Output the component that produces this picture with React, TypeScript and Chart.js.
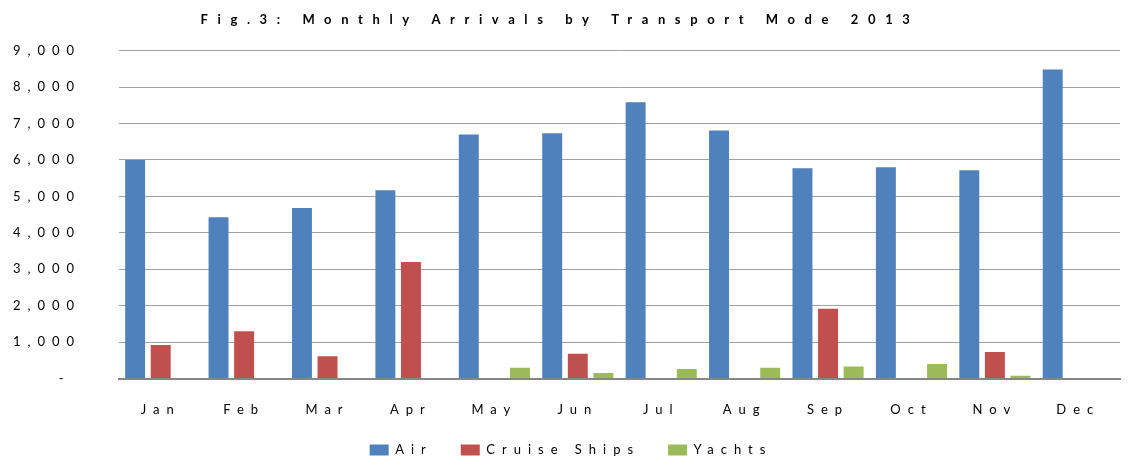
import React, { useEffect, useRef } from 'react';
import { Chart, registerables } from 'chart.js';

Chart.register(...registerables);

const months = ['Jan', 'Feb', 'Mar', 'Apr', 'May', 'Jun', 'Jul', 'Aug', 'Sep', 'Oct', 'Nov', 'Dec'];
const air = [6000, 4430, 4680, 5170, 6700, 6730, 7580, 6810, 5770, 5800, 5720, 8480];
const cruise = [920, 1300, 610, 3200, 0, 680, 0, 0, 1920, 0, 730, 0];
const yachts = [0, 0, 0, 0, 300, 155, 265, 300, 335, 400, 80, 0];
const seriesNames = ['Air', 'Cruise Ships', 'Yachts'];
const seriesColors = ['#4F81BD', '#C0504D', '#9BBB59'];
const titleText = 'Fig.3: Monthly Arrivals by Transport Mode 2013';

const FONT = 'Lato, "Open Sans", sans-serif';
const SPACING = '7px';
const TITLE_SPACING = '9.6px';

const spacingPlugin = {
  id: 'letterSpacing',
  afterInit(chart: any) {
    const tb = chart.titleBlock;
    if (tb) {
      const orig = tb.draw.bind(tb);
      tb.draw = function () {
        const ctx = chart.ctx;
        ctx.save();
        ctx.letterSpacing = TITLE_SPACING;
        orig();
        ctx.restore();
      };
    }
  },
  beforeUpdate(chart: any) {
    chart.ctx.letterSpacing = SPACING;
  },
  beforeLayout(chart: any) {
    chart.ctx.letterSpacing = SPACING;
  },
  afterLayout(chart: any) {
    if (chart.legend) {
      chart.legend.left += 11;
      chart.legend.right += 11;
      chart.legend.top -= 2;
      chart.legend.bottom -= 2;
    }
  },
  beforeDraw(chart: any) {
    chart.ctx.letterSpacing = SPACING;
  },
};

export default function App() {
  const ref = useRef<HTMLCanvasElement | null>(null);

  useEffect(() => {
    document.body.style.margin = '0';
    const canvas = ref.current;
    if (!canvas) return;
    const chart = new Chart(canvas, {
      type: 'bar',
      data: {
        labels: months,
        datasets: [air, cruise, yachts].map((d, i) => ({
          label: seriesNames[i],
          data: d,
          backgroundColor: seriesColors[i],
          borderWidth: 0,
          barPercentage: 0.78,
          categoryPercentage: 0.92,
        })),
      },
      options: {
        animation: false,
        responsive: false,
        maintainAspectRatio: false,
        devicePixelRatio: 1,
        layout: { padding: { left: 0, right: 9, top: 0, bottom: -10.6 } },
        plugins: {
          title: {
            display: true,
            text: titleText,
            color: '#000',
            font: { family: FONT, size: 13, weight: 'bold' },
            padding: { top: 12, bottom: 23 },
          },
          legend: {
            position: 'bottom',
            labels: {
              boxWidth: 19,
              boxHeight: 11,
              padding: 28,
              color: '#000',
              font: { family: FONT, size: 13 },
            },
          },
          tooltip: { enabled: false },
        },
        scales: {
          x: {
            grid: { display: false, drawTicks: false },
            border: { display: true, color: '#868686', width: 2 },
            ticks: { color: '#000', font: { family: FONT, size: 13 }, padding: 23, maxRotation: 0 },
            afterFit: (scale: any) => {
              scale.height = 39;
            },
          },
          y: {
            min: 0,
            max: 9000,
            grid: { color: '#A0A0A0', lineWidth: 1, drawTicks: false },
            border: { display: false },
            ticks: {
              stepSize: 1000,
              color: '#000',
              font: { family: FONT, size: 13 },
              padding: 38,
              callback: (v: any) => (Number(v) === 0 ? '- ' : Number(v).toLocaleString('en-US')),
            },
            afterFit: (scale: any) => {
              scale.width = 119;
            },
          },
        },
      },
      plugins: [spacingPlugin],
    });
    return () => chart.destroy();
  }, []);

  return (
    <div style={{ width: 1129, height: 458 }}>
      <canvas ref={ref} width={1129} height={458} />
    </div>
  );
}
